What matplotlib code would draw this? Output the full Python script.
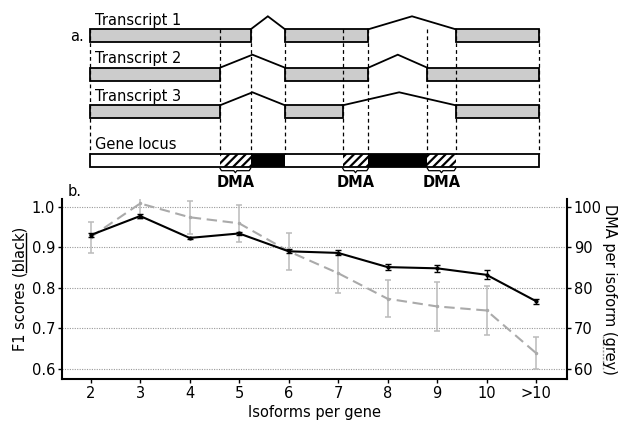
import matplotlib
matplotlib.use('Agg')
import matplotlib.pyplot as plt
from matplotlib.patches import Rectangle
from matplotlib.lines import Line2D
import numpy as np

plt.rcParams['font.family'] = ['DejaVu Sans']
plt.rcParams['hatch.linewidth'] = 1.6

# ---------------- panel b data ----------------
categories = ['2', '3', '4', '5', '6', '7', '8', '9', '10', '>10']
f1_scores = [0.930, 0.977, 0.923, 0.934, 0.890, 0.886, 0.851, 0.848, 0.832, 0.767]
f1_err = [0.004, 0.005, 0.003, 0.004, 0.005, 0.006, 0.008, 0.008, 0.011, 0.006]
dma_per_isoform = [92.5, 100.8, 97.4, 95.9, 89.0, 83.6, 77.3, 75.4, 74.4, 63.9]
dma_err = [3.8, 3.9, 4.1, 4.6, 4.6, 4.8, 4.6, 6.1, 6.0, 4.0]
left_ticks = [0.6, 0.7, 0.8, 0.9, 1.0]
right_ticks = [60, 70, 80, 90, 100]

# ---------------- panel a data (locus coordinates) ----------------
boundaries = [90, 220, 250.7, 285, 342.7, 368.3, 427.3, 455.7, 539]
transcript_names = ['Transcript 1', 'Transcript 2', 'Transcript 3']
transcript_exons = [
    [(90, 250.7), (285, 368.3), (455.7, 539)],
    [(90, 220), (285, 368.3), (427.3, 539)],
    [(90, 220), (285, 342.7), (455.7, 539)],
]
row_tops = [29.3, 67.7, 105.3]
locus_top = 153.7
bar_h = 13.0
intron_rise = 13.0
locus_segments = [  # (start, end, kind)
    (90, 220, 'white'), (220, 250.7, 'hatch'), (250.7, 285, 'black'),
    (285, 342.7, 'white'), (342.7, 368.3, 'hatch'), (368.3, 427.3, 'black'),
    (427.3, 455.7, 'hatch'), (455.7, 539, 'white'),
]
dma_regions = [(220, 250.7), (342.7, 368.3), (427.3, 455.7)]

W, H = 620, 421
fig = plt.figure(figsize=(W / 100, H / 100), dpi=100)

# ---------------- panel a ----------------
axa = fig.add_axes([0, 0, 1, 1], zorder=0)
axa.set_xlim(0, W)
axa.set_ylim(H, 0)
axa.axis('off')
axa.patch.set_visible(False)

fs = 10.5
for name, exons, top in zip(transcript_names, transcript_exons, row_tops):
    for (s, e) in exons:
        axa.add_patch(Rectangle((s, top), e - s, bar_h, facecolor='#cccccc',
                                edgecolor='black', lw=1.3, zorder=2))
    for (s0, e0), (s1, e1) in zip(exons[:-1], exons[1:]):
        mid = (e0 + s1) / 2
        axa.plot([e0, mid, s1], [top, top - intron_rise, top], color='black',
                 lw=1.3, zorder=2, solid_joinstyle='miter')
    axa.text(95, top - 4.5, name, fontsize=fs, ha='left', va='baseline')

for (s, e, kind) in locus_segments:
    if kind == 'white':
        axa.add_patch(Rectangle((s, locus_top), e - s, bar_h, facecolor='white',
                                edgecolor='none', zorder=2))
    elif kind == 'black':
        axa.add_patch(Rectangle((s, locus_top), e - s, bar_h, facecolor='black',
                                edgecolor='none', zorder=2))
    else:
        axa.add_patch(Rectangle((s, locus_top), e - s, bar_h, facecolor='white',
                                edgecolor='black', hatch='////', lw=0, zorder=2))
axa.add_patch(Rectangle((boundaries[0], locus_top), boundaries[-1] - boundaries[0],
                        bar_h, facecolor='none', edgecolor='black', lw=1.3, zorder=3))
axa.text(95, locus_top - 4.5, 'Gene locus', fontsize=fs, ha='left', va='baseline')

for b in boundaries:
    axa.plot([b, b], [row_tops[0], locus_top], color='black', lw=0.9,
             ls=(0, (3, 2.5)), zorder=4)

for (s, e) in dma_regions:
    yb = locus_top + bar_h + 1.5
    m = (s + e) / 2
    axa.plot([s, s + 1.5, m - 1.5, m, m + 1.5, e - 1.5, e],
             [yb, yb + 2.5, yb + 2.5, yb + 4.5, yb + 2.5, yb + 2.5, yb],
             color='black', lw=0.9, zorder=3)
    axa.text(m, 187, 'DMA', fontsize=fs, fontweight='bold', ha='center',
             va='baseline')

axa.text(70, 41, 'a.', fontsize=fs, ha='left', va='baseline')

# ---------------- panel b ----------------
L, R, T, B = 62, 566.7, 199, 379
ax = fig.add_axes([L / W, (H - B) / H, (R - L) / W, (B - T) / H], zorder=2)
ax2 = ax.twinx()
ax.set_zorder(ax2.get_zorder() + 1)
ax.patch.set_visible(False)

x = np.arange(len(categories))
ax.set_xlim(-0.58, 9.62)
ax.set_ylim(0.575, 1.019)
ax2.set_ylim(57.5, 101.9)

for yt in right_ticks:
    ax2.axhline(yt, color='#999999', lw=0.8, ls=(0, (1, 1.2)), zorder=0)

ax2.errorbar(x, dma_per_isoform, yerr=dma_err, color='#aaaaaa', ecolor='#bbbbbb',
             lw=1.5, ls=(0, (5, 2.7)), marker='.', ms=3, capsize=2.5,
             elinewidth=1.1, capthick=1.1, zorder=2)
ax.errorbar(x, f1_scores, yerr=f1_err, color='black', lw=1.5, marker='.',
            ms=4, capsize=2.5, elinewidth=1.0, capthick=1.0, zorder=3)

ax.set_xticks(x)
ax.set_xticklabels(categories, fontsize=fs)
ax.set_yticks(left_ticks)
ax.set_yticklabels(['%.1f' % v for v in left_ticks], fontsize=fs)
ax2.set_yticks(right_ticks)
ax2.set_yticklabels([str(v) for v in right_ticks], fontsize=fs)

for a in (ax, ax2):
    a.spines['top'].set_visible(False)
    for sp in ('left', 'bottom', 'right'):
        a.spines[sp].set_linewidth(1.5)
    a.tick_params(direction='out', length=3, width=1, pad=2)
ax.spines['right'].set_visible(False)
ax2.spines['left'].set_visible(False)
ax2.spines['bottom'].set_visible(False)

ax.set_xlabel('Isoforms per gene', fontsize=fs, labelpad=3)
ax.set_ylabel('F1 scores (black)', fontsize=fs, labelpad=3)
ax2.set_ylabel('DMA per isoform (grey)', fontsize=fs, rotation=270, labelpad=11)

ax.text(0.012, 1.0, 'b.', transform=ax.transAxes, fontsize=fs, ha='left',
        va='bottom')

# underlines of "black" and "grey"
fig.canvas.draw()
r = fig.canvas.get_renderer()
inv = fig.transFigure.inverted()


def underline(label, pre, word, color, style, rot):
    prop = label.get_fontproperties()
    bb = label.get_window_extent(r)
    full = label.get_text()
    wf, hf, df = r.get_text_width_height_descent(full, prop, ismath=False)
    wp, _, _ = r.get_text_width_height_descent(pre, prop, ismath=False)
    ww, _, _ = r.get_text_width_height_descent(word, prop, ismath=False)
    if rot == 90:
        start = bb.y0 + (bb.height - wf) / 2
        y0, y1 = start + wp, start + wp + ww
        xx = bb.x1 - df * 0.45
    else:
        start = bb.y1 - (bb.height - wf) / 2
        y0, y1 = start - wp, start - wp - ww
        xx = bb.x0 + df * 0.45
    p0 = inv.transform((xx, y0))
    p1 = inv.transform((xx, y1))
    fig.add_artist(Line2D([p0[0], p1[0]], [p0[1], p1[1]], transform=fig.transFigure,
                          color=color, lw=1.0, ls=style))


underline(ax.yaxis.label, 'F1 scores (', 'black', 'black', '-', 90)
underline(ax2.yaxis.label, 'DMA per isoform (', 'grey', '#999999', (0, (1.5, 1)), 270)

fig.savefig('out.png', dpi=100)
